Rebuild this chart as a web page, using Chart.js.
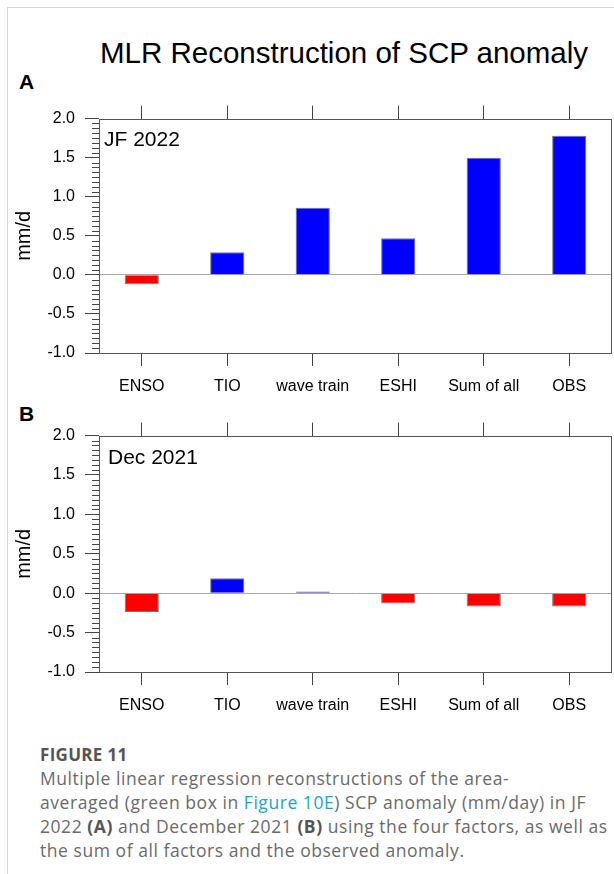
<!DOCTYPE html>
<html>
<head>
<meta charset="utf-8">
<script src="https://cdn.jsdelivr.net/npm/chart.js@4.4.0/dist/chart.umd.min.js"></script>
<style>
  html, body { margin: 0; padding: 0; background: #fff; }
  body { width: 614px; height: 874px; position: relative; overflow: hidden;
         font-family: "Liberation Sans", Arial, sans-serif; color: #000; }
  .frame { position: absolute; left: 7px; top: 7px; right: -2px; bottom: -2px;
           border-left: 1px solid #d4d4d4; border-top: 1px solid #d4d4d4; }
  .abs { position: absolute; white-space: nowrap; line-height: 1; }
  #title { left: 0; width: 688px; text-align: center; top: 38px; font-size: 29.5px; }
  .panel { left: 19px; font-size: 21px; font-weight: bold; }
  .tag { font-size: 21px; }
  canvas { position: absolute; left: 0; }
  #caption { position: absolute; left: 40px; top: 743px; white-space: nowrap;
             font-family: "Open Sans", sans-serif; font-size: 17.5px; color: #6a6a6a; }
  #caption .fig { font-weight: bold; color: #555; line-height: 23px; letter-spacing: 0.3px; font-size: 17px; }
  #caption .ln { line-height: 24px; letter-spacing: 0.55px; }
  #caption b { color: #555; }
  #caption .lnk { color: #1ba5c5; }
</style>
</head>
<body>
<div class="frame"></div>
<div id="title" class="abs">MLR Reconstruction of SCP anomaly</div>
<div class="abs panel" style="top:71px">A</div>
<div class="abs panel" style="top:403px">B</div>
<canvas id="chartA" width="614" height="300" style="top:99px"></canvas>
<canvas id="chartB" width="614" height="302" style="top:416px"></canvas>
<div class="abs tag" style="left:104px; top:128px">JF 2022</div>
<div class="abs tag" style="left:108px; top:446px">Dec 2021</div>
<div id="caption">
  <div class="fig">FIGURE 11</div>
  <div class="ln">Multiple linear regression reconstructions of the area-</div>
  <div class="ln">averaged (green box in <span class="lnk">Figure 10E</span>) SCP anomaly (mm/day) in JF</div>
  <div class="ln">2022 <b>(A)</b> and December 2021 <b>(B)</b> using the four factors, as well as</div>
  <div class="ln">the sum of all factors and the observed anomaly.</div>
</div>
<script>
// data (mm/d)
const categories = ["ENSO", "TIO", "wave train", "ESHI", "Sum of all", "OBS"];
const jf2022 = [-0.12, 0.29, 0.86, 0.47, 1.50, 1.78];
const dec2021 = [-0.24, 0.19, 0.02, -0.13, -0.17, -0.17];
const yMin = -1.0, yMax = 2.0, yStep = 0.5;

// plot frame + minor ticks on the left axis
const boxPlugin = {
  id: "box",
  afterDraw(chart) {
    const { ctx, chartArea: a, scales: { y } } = chart;
    ctx.save();
    ctx.strokeStyle = "#555";
    ctx.lineWidth = 1;
    ctx.strokeRect(Math.round(a.left) + 0.5, Math.round(a.top) + 0.5,
                   Math.round(a.right - a.left) - 1, Math.round(a.bottom - a.top));
    ctx.strokeStyle = "#444";
    ctx.beginPath();
    const n = (yMax - yMin) * 16;
    for (let i = 1; i < n; i++) {
      if (i % 8 === 0) continue;
      const py = Math.round(y.getPixelForValue(yMin + i / 16)) + 0.5;
      ctx.moveTo(a.left - 7, py);
      ctx.lineTo(a.left, py);
    }
    ctx.stroke();
    ctx.restore();
  }
};

function makeChart(id, values, xh) {
  return new Chart(document.getElementById(id), {
    type: "bar",
    data: {
      labels: categories,
      datasets: [{
        data: values,
        backgroundColor: values.map(v => v < 0 ? "#ff0000" : "#0000ff"),
        borderColor: "#777",
        borderWidth: 1,
        barPercentage: 0.4,
        categoryPercentage: 1
      }]
    },
    options: {
      responsive: false,
      animation: false,
      layout: { padding: { left: 0, right: 2, top: 0, bottom: 0 } },
      plugins: { legend: { display: false }, tooltip: { enabled: false } },
      scales: {
        x: {
          position: "bottom",
          grid: { offset: false, drawOnChartArea: false, tickLength: 13, tickColor: "#444" },
          border: { display: false },
          ticks: { color: "#000", font: { size: 16, family: "Liberation Sans" }, padding: 11,
                   maxRotation: 0, autoSkip: false },
          afterFit: s => { s.height = xh; }
        },
        x2: {
          type: "category",
          position: "top",
          labels: categories,
          grid: { offset: false, drawOnChartArea: false, tickLength: 13, tickColor: "#444" },
          border: { display: false },
          ticks: { display: false },
          afterFit: s => { s.height = 18; }
        },
        y: {
          min: yMin,
          max: yMax,
          ticks: { stepSize: yStep, callback: v => v.toFixed(1), color: "#000",
                   font: { size: 16, family: "Liberation Sans" }, padding: 10 },
          grid: {
            color: c => (c.tick && c.tick.value === 0) ? "#a8a8a8" : "rgba(0,0,0,0)",
            tickColor: "#444",
            tickLength: 14
          },
          border: { display: false },
          title: { display: true, text: "mm/d", color: "#000",
                   font: { size: 20, family: "Liberation Sans" }, padding: { top: 12, bottom: 0 } },
          afterFit: s => { s.width = 99; }
        }
      }
    },
    plugins: [boxPlugin]
  });
}

makeChart("chartA", jf2022, 46);
makeChart("chartB", dec2021, 46);
</script>
</body>
</html>
